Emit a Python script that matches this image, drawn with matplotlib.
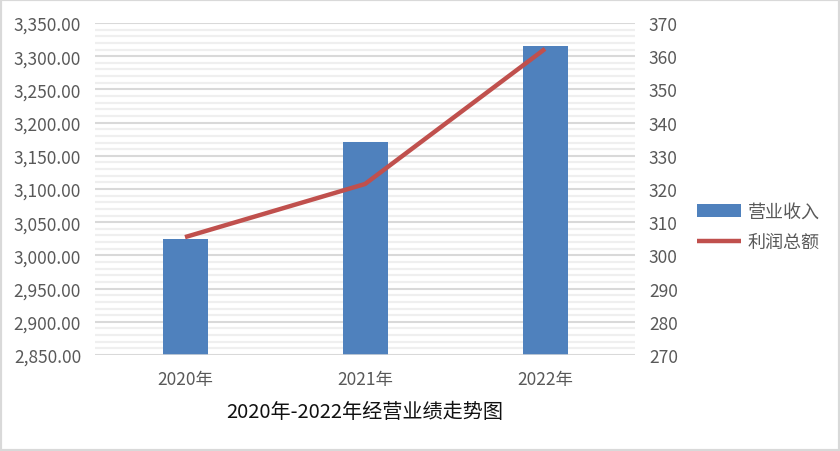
import matplotlib
matplotlib.use('Agg')
import matplotlib.pyplot as plt
from matplotlib.patches import Rectangle
from matplotlib.ticker import MultipleLocator, FuncFormatter
import numpy as np

plt.rcParams['font.family'] = ['Noto Sans CJK SC', 'DejaVu Sans']

# 数据
anos = ['2020年', '2021年', '2022年']
ingresos = [3025.0, 3171.0, 3315.0]      # 营业收入 (左轴)
beneficio = [305.5, 321.5, 362.2]        # 利润总额 (右轴)
titulo = '2020年-2022年经营业绩走势图'

color_barra = '#4F81BD'
color_linea = '#C0504D'
color_texto = '#595959'

fig = plt.figure(figsize=(8.4, 4.52), dpi=100)
ax = fig.add_axes([95 / 840, 1 - 356 / 452, 540 / 840, 332 / 452])
ax2 = ax.twinx()

x = np.arange(len(anos))
barras = ax.bar(x, ingresos, width=0.25, color=color_barra, label='营业收入', zorder=2)
linea, = ax2.plot(x, beneficio, color=color_linea, linewidth=3.2,
                  solid_capstyle='butt', label='利润总额')

# Ejes
ax.set_xlim(-0.5, 2.5)
ax.set_ylim(2850, 3350)
ax2.set_ylim(270, 370)
ax.yaxis.set_major_locator(MultipleLocator(50))
ax.yaxis.set_minor_locator(MultipleLocator(10))
ax2.yaxis.set_major_locator(MultipleLocator(10))
ax.yaxis.set_major_formatter(FuncFormatter(lambda v, p: f'{v:,.2f}'))

ax.set_xticks(x)
ax.set_xticklabels(anos)

# Rejilla
ax.set_axisbelow(True)
ax.grid(which='major', axis='y', color='#d9d9d9', linewidth=1.5)
ax.grid(which='minor', axis='y', color='#efefef', linewidth=1.6)

for a in (ax, ax2):
    for s in ('top', 'left', 'right', 'bottom'):
        a.spines[s].set_visible(False)
    a.tick_params(which='both', length=0, labelsize=12.5, labelcolor=color_texto)
ax.axhline(2850, color='#d9d9d9', linewidth=1.8, zorder=3)
ax.tick_params(axis='x', pad=11)
ax.tick_params(axis='y', pad=10)
ax2.tick_params(axis='y', pad=10)

ax.set_xlabel(titulo, fontsize=14.5, color='#111111', labelpad=9)

fig.legend(handles=[barras, linea], labels=['营业收入', '利润总额'],
           loc='center left', bbox_to_anchor=(681 / 840, 1 - 228 / 452),
           frameon=False, fontsize=13, labelcolor=color_texto,
           handlelength=2.4, handletextpad=0.4, labelspacing=0.65)

# Borde
fig.patches.append(Rectangle((0, 0), 1, 1, transform=fig.transFigure,
                             fill=False, edgecolor='#d9d9d9', linewidth=3))

fig.savefig('out.png', dpi=100)
plt.close(fig)
